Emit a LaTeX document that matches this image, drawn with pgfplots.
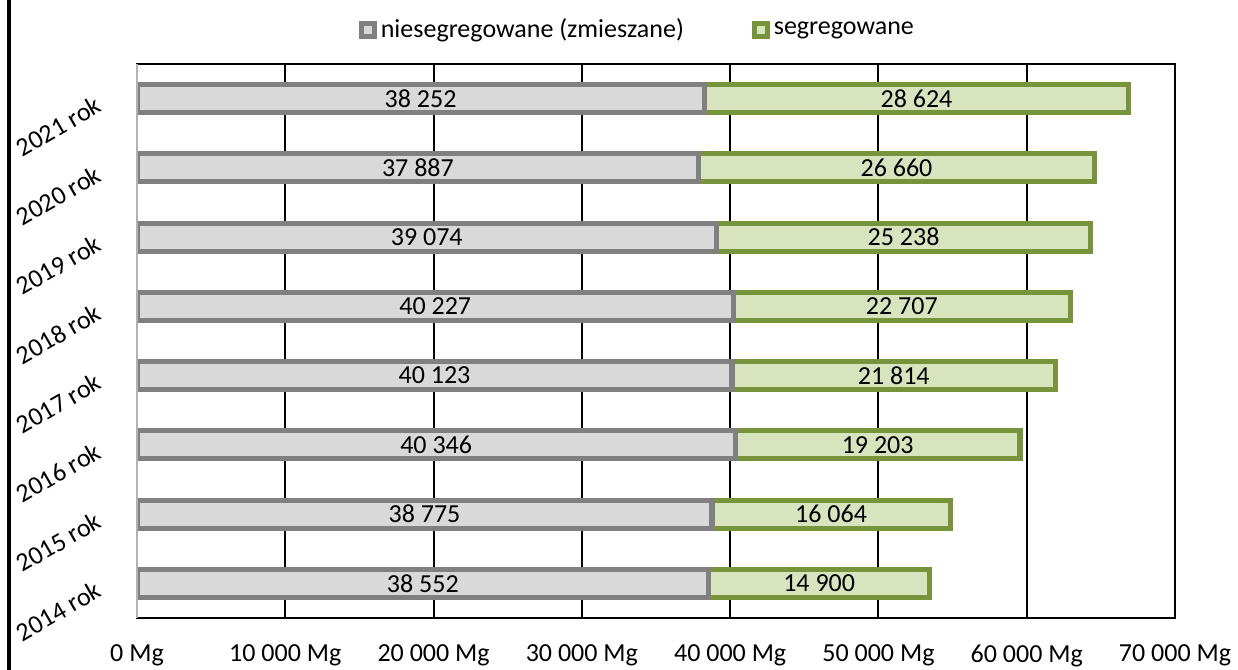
\documentclass[border=0pt]{standalone}
\usepackage{fontspec}
\setmainfont{Carlito}
\usepackage{pgfplots}
\usepackage{pgfplotstable}
\pgfplotsset{compat=1.18}
\usetikzlibrary{calc}
\definecolor{gfill}{HTML}{D9D9D9}
\definecolor{gline}{HTML}{808080}
\definecolor{sfill}{HTML}{D7E4BD}
\definecolor{sline}{HTML}{77933C}
\pgfplotstableread{
y a b
0 38552 14900
1 38775 16064
2 40346 19203
3 40123 21814
4 40227 22707
5 39074 25238
6 37887 26660
7 38252 28624
}\data
\begin{document}
\fontsize{13}{15}\selectfont
\begin{tikzpicture}
\begin{axis}[
  scale only axis, width=519pt, height=277pt,
  xbar stacked, bar width=14pt,
  xmin=0, xmax=70000, ymin=-0.5, ymax=7.5,
  xtick={0,10000,...,70000},
  scaled x ticks=false,
  xticklabel={\pgfmathprintnumber{\tick}~Mg},
  /pgf/number format/fixed,
  /pgf/number format/precision=0,
  /pgf/number format/1000 sep={\ },
  /pgf/number format/assume math mode=true,
  ytick={0,...,7},
  yticklabels={2014 rok,2015 rok,2016 rok,2017 rok,2018 rok,2019 rok,2020 rok,2021 rok},
  yticklabel style={rotate=30, anchor=east, xshift=-13.2pt, yshift=7.6pt, font=\fontsize{13}{15}\selectfont},
  xticklabel style={yshift=-9pt, font=\fontsize{13}{15}\selectfont},
  tick style={draw=none},
  xmajorgrids, grid style={black, line width=1pt},
  axis line style={black, line width=1pt},
  nodes near coords,
  every node near coord/.append style={anchor=center, text=black, font=\fontsize{13}{15}\selectfont},
  legend style={at={(0.483,1)}, anchor=south, yshift=9pt, draw=none, fill=none, legend columns=2, font=\fontsize{13}{15}\selectfont,
    /tikz/every even column/.append style={column sep=32pt}, inner sep=0pt},
  legend image code/.code={\draw[#1, line width=2.5pt] (0pt,-3.2pt) rectangle (6.5pt,3.3pt);},
]
\addplot[fill=gfill, draw=gline, line width=2.6pt] table[x=a, y=y, meta=a]{\data};
\addplot[fill=sfill, draw=sline, line width=2.6pt] table[x=b, y=y, meta=b]{\data};
\legend{niesegregowane (zmieszane), segregowane}
\coordinate (SW) at (rel axis cs:0,0);
\coordinate (NW) at (rel axis cs:0,1);
\coordinate (NE) at (rel axis cs:1,1);
\end{axis}
\draw[white, line width=1.2pt] (SW) -- (NW);
\draw[black!30, line width=0.6pt] (SW) -- (NW);
\pgfresetboundingbox
\path[use as bounding box] ($(SW)+(-68.5pt,-26pt)$) rectangle ($(NE)+(31.5pt,32pt)$);
\draw[black, line width=2pt] ($(SW)+(-64pt,-26pt)$) -- ($(NW)+(-64pt,32pt)$);
\end{tikzpicture}
\end{document}
